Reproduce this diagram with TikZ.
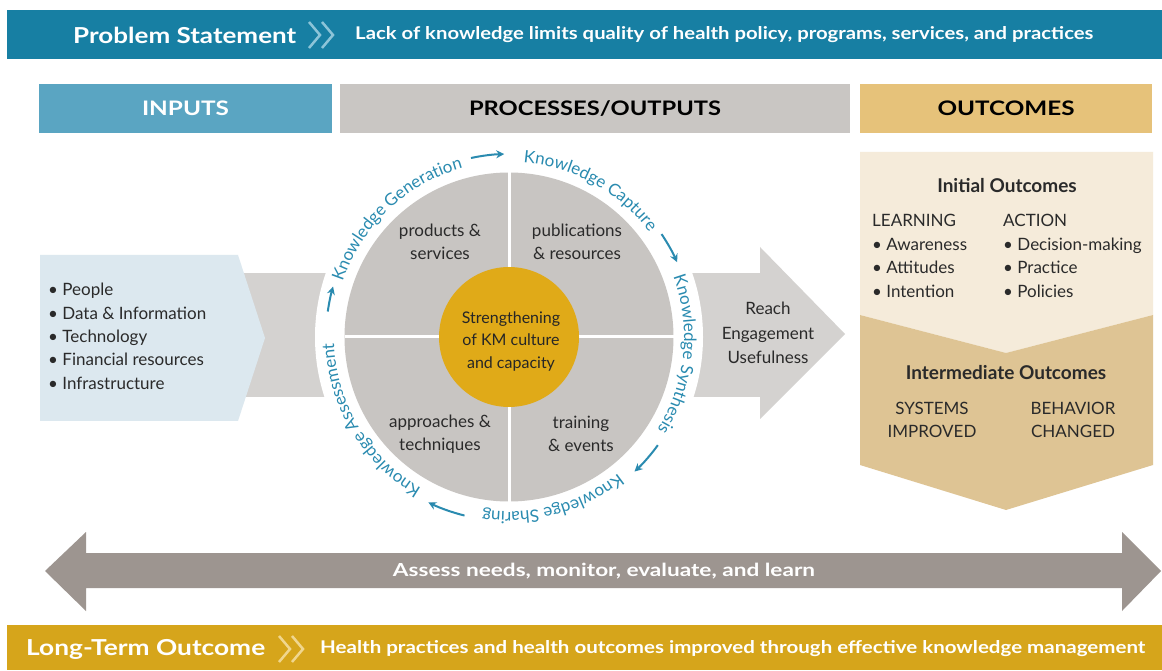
\documentclass[tikz,border=0pt]{standalone}
\usepackage{fontspec}
\setmainfont{Lato}
\usetikzlibrary{decorations.text,arrows.meta}
\definecolor{bteal}{HTML}{177FA3}
\definecolor{inhdr}{HTML}{5AA5C2}
\definecolor{prhdr}{HTML}{C9C6C3}
\definecolor{ouhdr}{HTML}{E6C27A}
\definecolor{inbody}{HTML}{DCE8EF}
\definecolor{bandc}{HTML}{D4D2D0}
\definecolor{diskc}{HTML}{C8C5C2}
\definecolor{goldc}{HTML}{E0AA18}
\definecolor{ringc}{HTML}{2A8BB0}
\definecolor{creamc}{HTML}{F5EBDA}
\definecolor{tanc}{HTML}{DEC494}
\definecolor{agray}{HTML}{9D9590}
\definecolor{ltgold}{HTML}{D6A51B}
\definecolor{txt}{HTML}{2A2A2A}
\definecolor{chevb}{HTML}{8CC4D8}
\definecolor{chevg}{HTML}{F0D68E}
\newcommand\fitw[2]{\resizebox{#1}{\height}{#2}}
\newcommand\fsz[2]{\fontsize{#1}{#2}\selectfont}
\newcommand\ringfont{\fontsize{17}{17}\selectfont}
\begin{document}
\begin{tikzpicture}[x=1pt,y=1pt,
  hdr/.style={minimum height=49pt, inner sep=0pt, font=\bfseries\fsz{20}{20}},
  body/.style={text=txt, font=\fsz{17}{23}, align=center, inner sep=0pt},
  ln/.style={anchor=west, inner sep=0pt, text height=12pt, text depth=4pt, text=txt, font=\fsz{17}{20}},
  bln/.style={inner sep=0pt, text height=14pt, text depth=4pt, text=txt, font=\bfseries\fsz{19}{20}},
  ringtext/.style={decorate, decoration={text along path, text align=center, text color=ringc}},
  ringarr/.style={draw=ringc, line width=2pt, -{Stealth[length=8pt,width=8pt]}},
  bantext/.style={anchor=west, inner sep=0pt, text=white}
]
\useasboundingbox (0,0) rectangle (1162,670);
\fill[white] (0,0) rectangle (1162,670);

% top banner
\fill[bteal] (7,611) rectangle (1162,660);
\node[bantext, font=\bfseries\fsz{22}{22}] (ps) at (73,635) {\fitw{223pt}{Problem Statement}};
\draw[chevb, line width=2.5pt] (309,648)--(320,635)--(309,622) (322,648)--(333,635)--(322,622);
\node[bantext, font=\bfseries\fsz{17.5}{17.5}] (pst) at (355,635) {\fitw{738pt}{Lack of knowledge limits quality of health policy, programs, services, and practices}};

% headers
\node[hdr, fill=inhdr, text=white, minimum width=293pt] (hin) at (185.5,561.5) {\fitw{87pt}{INPUTS}};
\node[hdr, fill=prhdr, text=black, minimum width=510pt] (hpr) at (595,561.5) {\fitw{252pt}{PROCESSES/OUTPUTS}};
\node[hdr, fill=ouhdr, text=black, minimum width=292pt] (hou) at (1006,561.5) {\fitw{137pt}{OUTCOMES}};

% band and reach arrow
\fill[bandc] (238,273) rectangle (762,397);
\fill[bandc] (760,423)--(845,336)--(760,251)--cycle;

% inputs pentagon
\fill[inbody] (40,415)--(238,415)--(265,332)--(238,249)--(40,249)--cycle;
\node[ln] (i1) at (48,378) {• People};
\node[ln] (i2) at (48,354.7) {• Data \& Information};
\node[ln] (i3) at (48,331.4) {• Technology};
\node[ln] (i4) at (48,308.1) {• Financial resources};
\node[ln] (i5) at (48,284.8) {• Infrastructure};

% circle
\coordinate (c) at (509,333);
\fill[white] (c) circle[radius=194];
\fill[diskc] (c) circle[radius=164.5];
\draw[white, line width=3pt] (509,168.5)--(509,497.5) (344.5,333)--(673.5,333);
\fill[goldc] (c) circle[radius=70];
\node[body] (q1) at (440,428.5) {products \&\\services};
\node[body] (q2) at (577,428.5) {publications\\\& resources};
\node[body] (q3) at (440,236) {approaches \&\\techniques};
\node[body] (q4) at (581,236) {training\\\& events};
\node[body, font=\fsz{16}{22.5}, text=black!85] (core) at (511,329) {Strengthening\\of KM culture\\and capacity};

\begin{scope}[shift={(c)}]
\path[ringtext, decoration={text={|\ringfont|Knowledge Generation}}] (178:175) arc[start angle=178, end angle=89, radius=175];
\path[ringtext, decoration={text={|\ringfont|Knowledge Capture}}] (101:175) arc[start angle=101, end angle=21, radius=175];
\path[ringtext, decoration={text={|\ringfont|Knowledge Synthesis}}] (34:175) arc[start angle=34, end angle=-46, radius=175];
\path[ringtext, decoration={text={|\ringfont|Knowledge Sharing}}] (-35:175) arc[start angle=-35, end angle=-115, radius=175];
\path[ringtext, decoration={text={|\ringfont|Knowledge Assessment}}] (-105:175) arc[start angle=-105, end angle=-193, radius=175];
\draw[ringarr] (102:183) arc[start angle=102, end angle=91.5, radius=183];
\draw[ringarr] (34:184) arc[start angle=34, end angle=24, radius=184];
\draw[ringarr] (-36:184) arc[start angle=-36, end angle=-47, radius=184];
\draw[ringarr] (-104:184) arc[start angle=-104, end angle=-116, radius=184];
\draw[ringarr] (172:183) arc[start angle=172, end angle=164, radius=183];
\end{scope}

\node[body, font=\fsz{17}{24.5}] (reach) at (768,337) {Reach\\Engagement\\Usefulness};

% outcomes
\fill[creamc] (860,518)--(1153,518)--(1153,355)--(1006,317)--(860,355)--cycle;
\fill[tanc] (860,355)--(1006,317)--(1153,355)--(1153,205)--(1006,160)--(860,205)--cycle;
\node[bln] (io) at (1007,482) {Initial Outcomes};
\node[ln] (l0) at (872,447) {LEARNING};
\node[ln] (l1) at (872,423.5) {• Awareness};
\node[ln] (l2) at (872,400) {• Attitudes};
\node[ln] (l3) at (872,376.5) {• Intention};
\node[ln] (a0) at (1003,447) {ACTION};
\node[ln] (a1) at (1003,423.5) {• Decision-making};
\node[ln] (a2) at (1003,400) {• Practice};
\node[ln] (a3) at (1003,376.5) {• Policies};
\node[bln] (imo) at (1006,295) {Intermediate Outcomes};
\node[body] (sys) at (932,250.5) {SYSTEMS\\IMPROVED};
\node[body] (beh) at (1073,250.5) {BEHAVIOR\\CHANGED};

% bottom double arrow
\fill[agray] (45,99)--(86,138)--(86,117)--(1122,117)--(1122,138)--(1161,99)--(1122,59)--(1122,82)--(86,82)--(86,59)--cycle;
\node[inner sep=0pt, text=white, font=\bfseries\fsz{18}{18}] (assess) at (604,99) {\fitw{422pt}{Assess needs, monitor, evaluate, and learn}};

% long-term banner
\fill[ltgold] (7,0) rectangle (1162,45);
\node[bantext, font=\bfseries\fsz{22}{22}] (lt) at (26,21) {\fitw{239pt}{Long-Term Outcome}};
\draw[chevg, line width=2.5pt] (279,34)--(290,21)--(279,8) (292,34)--(303,21)--(292,8);
\node[bantext, font=\bfseries\fsz{17.5}{17.5}] (ltt) at (320,21) {\fitw{825pt}{Health practices and health outcomes improved through effective knowledge management}};
\end{tikzpicture}
\end{document}
